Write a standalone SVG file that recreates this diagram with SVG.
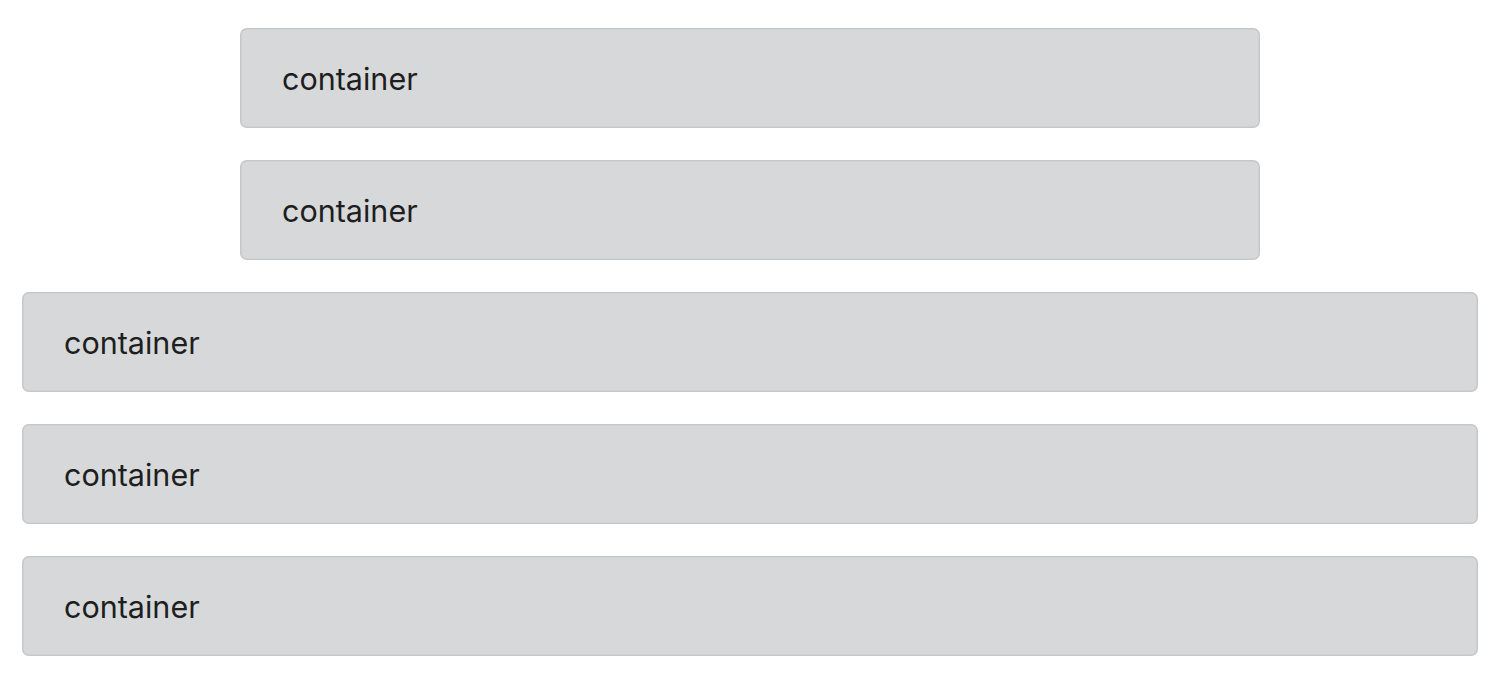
<svg xmlns="http://www.w3.org/2000/svg" width="1500" height="684" viewBox="0 0 1500 684">
<style>
.box{fill:#d7d8da;stroke:#c6c7c9;stroke-width:1.5}
.lbl{font-family:Inter,"Liberation Sans",sans-serif;font-size:30.5px;fill:#1e1e1e}
</style>
<rect width="1500" height="684" fill="#ffffff"/>
<g id="node1"><rect class="box" x="240.75" y="28.75" width="1018.5" height="98.5" rx="6"/><text class="lbl" x="282" y="89.5">container</text></g>
<g id="node2"><rect class="box" x="240.75" y="160.75" width="1018.5" height="98.5" rx="6"/><text class="lbl" x="282" y="221.5">container</text></g>
<g id="node3"><rect class="box" x="22.75" y="292.75" width="1454.5" height="98.5" rx="6"/><text class="lbl" x="64" y="353.5">container</text></g>
<g id="node4"><rect class="box" x="22.75" y="424.75" width="1454.5" height="98.5" rx="6"/><text class="lbl" x="64" y="485.5">container</text></g>
<g id="node5"><rect class="box" x="22.75" y="556.75" width="1454.5" height="98.5" rx="6"/><text class="lbl" x="64" y="617.5">container</text></g>
<g id="connectors"></g>
</svg>
